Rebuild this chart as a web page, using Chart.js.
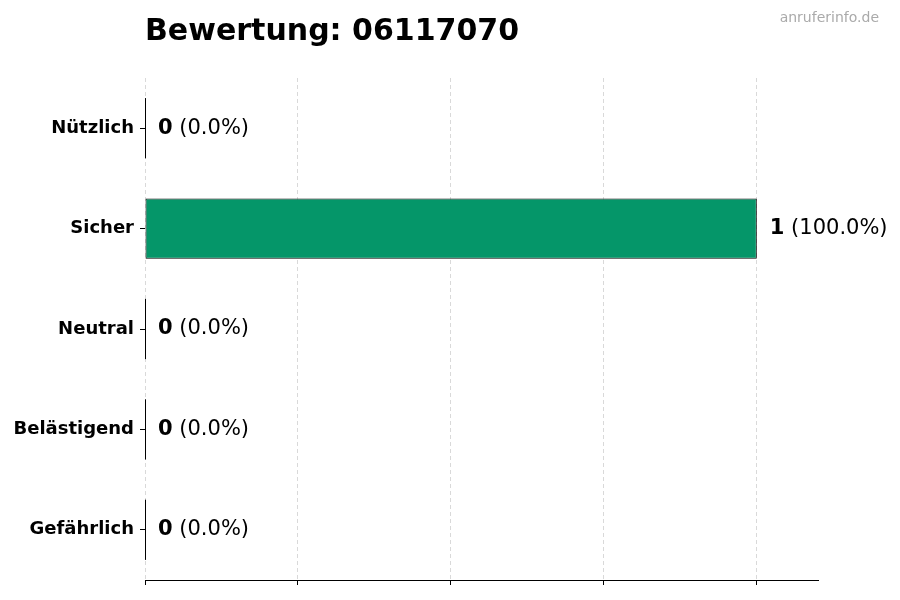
<!DOCTYPE html>
<html lang="de">
<head>
<meta charset="utf-8">
<title>Bewertung: 06117070</title>
<script src="https://cdn.jsdelivr.net/npm/chart.js@4/dist/chart.umd.min.js"></script>
<style>
    html, body { margin: 0; padding: 0; background: #fff; }
    #wrap { width: 900px; height: 600px; }
</style>
</head>
<body>
<div id="wrap"><canvas id="bewertungChart" width="900" height="600"></canvas></div>
<script>
// Daten
const kategorien = ['Nützlich', 'Sicher', 'Neutral', 'Belästigend', 'Gefährlich'];
const anzahl = [0, 1, 0, 0, 0];
const xTicks = [0, 0.25, 0.5, 0.75, 1];
const xMax = 1.1;

const titel = 'Bewertung: 06117070';
const quelle = 'anruferinfo.de';
const FONT = '"DejaVu Sans", sans-serif';

const summe = anzahl.reduce((a, b) => a + b, 0);

// Titel, Wasserzeichen, Null-Balken und Beschriftungen
const extras = {
    id: 'extras',
    afterDatasetsDraw(chart) {
        const ctx = chart.ctx;
        const area = chart.chartArea;
        const meta = chart.getDatasetMeta(0);
        const x0 = chart.scales.x.getPixelForValue(0);

        ctx.save();
        // Titel
        ctx.fillStyle = '#000';
        ctx.font = 'bold 30px ' + FONT;
        ctx.textAlign = 'left';
        ctx.textBaseline = 'alphabetic';
        ctx.fillText(titel, area.left, 40);

        // Wasserzeichen
        ctx.fillStyle = '#aaaaaa';
        ctx.font = '14px ' + FONT;
        ctx.textAlign = 'right';
        ctx.textBaseline = 'middle';
        ctx.fillText(quelle, 879, 18);

        meta.data.forEach((bar, i) => {
            const v = anzahl[i];
            // Kante der leeren Balken
            if (v === 0) {
                ctx.strokeStyle = '#000';
                ctx.lineWidth = 1;
                ctx.beginPath();
                ctx.moveTo(x0 + 0.5, bar.y - bar.height / 2);
                ctx.lineTo(x0 + 0.5, bar.y + bar.height / 2);
                ctx.stroke();
            }
            // Wert + Prozent
            const pct = summe ? (v / summe * 100).toFixed(1) : '0.0';
            let x = bar.x + 13;
            ctx.fillStyle = '#000';
            ctx.textAlign = 'left';
            ctx.textBaseline = 'middle';
            ctx.font = 'bold 21px ' + FONT;
            ctx.fillText(String(v), x, bar.y);
            x += ctx.measureText(String(v)).width;
            ctx.font = '21px ' + FONT;
            ctx.fillText(' (' + pct + '%)', x, bar.y);
        });
        ctx.restore();
    }
};

new Chart(document.getElementById('bewertungChart'), {
    type: 'bar',
    data: {
        labels: kategorien,
        datasets: [{
            data: anzahl,
            backgroundColor: '#059669',
            borderColor: '#000',
            borderWidth: 1,
            borderSkipped: false,
            categoryPercentage: 1,
            barPercentage: 0.6
        }]
    },
    options: {
        indexAxis: 'y',
        responsive: false,
        animation: false,
        devicePixelRatio: 1,
        layout: { padding: { left: 0, top: 78, right: 82, bottom: 0 } },
        plugins: {
            legend: { display: false },
            title: { display: false },
            tooltip: { enabled: false }
        },
        scales: {
            x: {
                min: 0,
                max: xMax,
                afterBuildTicks: (scale) => {
                    scale.ticks = xTicks.map(v => ({ value: v }));
                },
                afterFit: (scale) => { scale.height = 20; },
                ticks: { display: false },
                grid: {
                    color: '#d9d9d9',
                    lineWidth: 1,
                    drawTicks: true,
                    tickLength: 5,
                    tickColor: '#000',
                    tickBorderDash: []
                },
                border: { display: true, color: '#000', width: 1, dash: [4, 3] }
            },
            y: {
                afterFit: (scale) => { scale.width = 145; },
                ticks: {
                    color: '#000',
                    padding: 6,
                    font: { family: FONT, size: 18, weight: 'bold' }
                },
                grid: {
                    offset: false,
                    drawOnChartArea: false,
                    drawTicks: true,
                    tickLength: 5,
                    tickColor: '#000'
                },
                border: { display: false }
            }
        }
    },
    plugins: [extras]
});
</script>
</body>
</html>
